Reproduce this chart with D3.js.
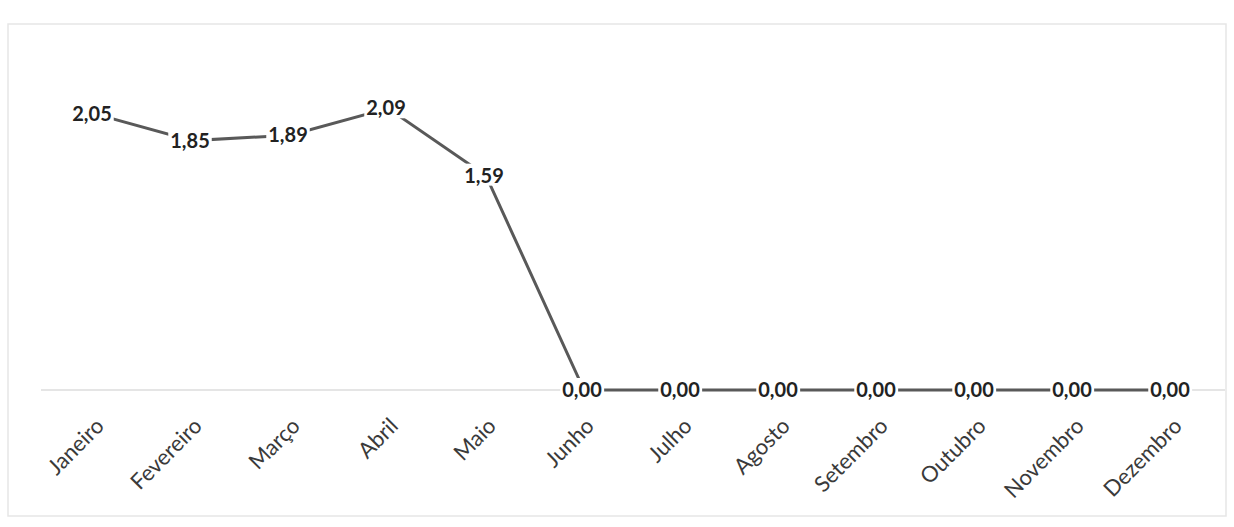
<!DOCTYPE html>
<html>
<head>
<meta charset="utf-8">
<script src="https://cdn.jsdelivr.net/npm/d3@7"></script>
<style>
  body { margin: 0; background: #fff; }
  svg { display: block; }
</style>
</head>
<body>
<div id="chart"></div>
<script>
// monthly values
var months = ['Janeiro', 'Fevereiro', 'Março', 'Abril', 'Maio', 'Junho',
              'Julho', 'Agosto', 'Setembro', 'Outubro', 'Novembro', 'Dezembro'];
var values = [2.05, 1.85, 1.89, 2.09, 1.59, 0, 0, 0, 0, 0, 0, 0];

var width = 1234, height = 527;
var margin = { top: 53, right: 13, bottom: 137, left: 45 };

var svg = d3.select('#chart').append('svg')
    .attr('width', width)
    .attr('height', height);

// outer chart frame (faint, like the scan)
svg.append('rect')
    .attr('x', 8).attr('y', 24)
    .attr('width', 1218).attr('height', 492)
    .attr('fill', 'none')
    .attr('stroke', '#e6e6e6')
    .attr('stroke-width', 1.5);

var x = d3.scalePoint()
    .domain(months)
    .range([margin.left, width - margin.right])
    .padding(0.5);

var y = d3.scaleLinear()
    .domain([0, 2.5])
    .range([height - margin.bottom, margin.top]);

// horizontal axis line only, no y axis shown
var xAxis = svg.append('g')
    .attr('transform', `translate(0,${y(0)})`)
    .call(d3.axisBottom(x).tickSize(0).tickFormat(''));

xAxis.select('.domain')
    .attr('stroke', '#dcdcdc')
    .attr('stroke-width', 1.5)
    .attr('d', `M${margin.left - 4},0H${width - 9}`);

// rotated month labels
svg.append('g').selectAll('text')
    .data(months)
  .enter().append('text')
    .attr('transform', (d) => { return `translate(${x(d) + 6},${y(0) + 32}) rotate(-45)` })
    .attr('text-anchor', 'end')
    .attr('dy', '0.35em')
    .attr('font-family', 'Lato, "Open Sans", sans-serif')
    .attr('font-size', 22)
    .attr('fill', '#3a3a3a')
    .text((d) => { return d });

var line = d3.line()
    .x((d, i) => { return x(months[i]) })
    .y((d) => { return y(d) });

svg.append('path')
    .datum(values)
    .attr('fill', 'none')
    .attr('stroke', '#595959')
    .attr('stroke-width', 3)
    .attr('d', line);

// data labels centered on the points, white box behind so the line stops short
var labels = svg.append('g').selectAll('g')
    .data(values)
  .enter().append('g')
    .attr('transform', (d, i) => { return `translate(${x(months[i]) - 2},${y(d)})` });

var labelText = labels.append('text')
    .attr('text-anchor', 'middle')
    .attr('dy', '0.35em')
    .attr('font-family', 'Lato, "Open Sans", sans-serif')
    .attr('font-weight', 'bold')
    .attr('font-size', 20)
    .attr('fill', '#222')
    .text((d) => { return d3.format('.2f')(d).replace('.', ',') });

labelText.each(function() {
  var b = this.getBBox();
  d3.select(this.parentNode).insert('rect', 'text')
      .attr('x', b.x - 2)
      .attr('y', b.y + 1)
      .attr('width', b.width + 4)
      .attr('height', b.height - 2)
      .attr('fill', '#fff');
});
</script>
</body>
</html>
